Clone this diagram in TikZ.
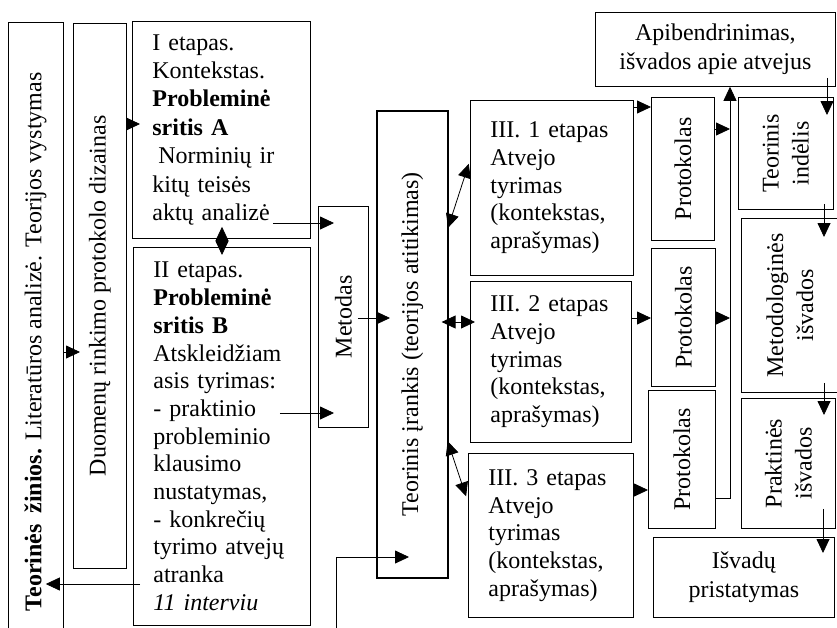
\documentclass[tikz,border=0pt]{standalone}
\usepackage{fontspec}
\setmainfont{Liberation Serif}
\usetikzlibrary{arrows.meta}
\begin{document}
\begin{tikzpicture}[x=1pt,y=-1pt, font=\fontsize{24}{27.7}\selectfont,
  box/.style={draw, line width=0.8pt, inner sep=0pt, anchor=north west},
  arr/.style={line width=0.8pt, -{Triangle[length=14pt,width=13pt]}},
  darr/.style={line width=0.8pt, {Triangle[length=14pt,width=13pt]}-{Triangle[length=14pt,width=13pt]}},
  rot/.style={rotate=90, align=center, inner sep=0pt, font=\fontsize{24}{30}\selectfont}]
\useasboundingbox (0,0) rectangle (837,627);

% left columns
\node[box, minimum width=55, minimum height=640] (lit) at (8,22) {};
\node[rot] (litt) at (35.5,342) {\textbf{Teorinės}\hspace{0.45em}\textbf{žinios.} Literatūros analizė. Teorijos vystymas};
\node[box, minimum width=53, minimum height=545] (duom) at (73,23) {};
\node[rot] (duomt) at (duom.center) {Duomenų rinkimo protokolo dizainas};

% stage I and II
\node[box, minimum width=178, minimum height=217, text width=138, inner xsep=20, align=left,
  font=\fontsize{24}{28.4}\selectfont] (s1) at (132,21)
  {I etapas.\\Kontekstas.\\\textbf{Probleminė}\\\textbf{sritis A}\\\hspace*{6pt}Norminių ir\\kitų teisės\\aktų analizė};
\node[box, minimum width=177, minimum height=378, text width=137, inner xsep=20, align=left] (s2) at (133,247)
  {II etapas.\\\textbf{Probleminė}\\\textbf{sritis B}\\Atskleidžiam\\asis tyrimas:\\- praktinio\\probleminio\\klausimo\\nustatymas,\\- konkrečių\\tyrimo atvejų\\atranka\\\textit{11 interviu}};

% method and tool
\node[box, minimum width=50, minimum height=221] (met) at (318,206) {};
\node[rot] (mett) at (met.center) {Metodas};
\node[box, line width=1.6pt, minimum width=71, minimum height=467] (teo) at (376,110) {};
\node[rot] (teot) at (teo.center) {Teorinis įrankis (teorijos atitikimas)};

% stage III boxes
\node[box, minimum width=163, minimum height=175, text width=123, inner xsep=20, align=left] (t1) at (470,100)
  {III. 1 etapas\\Atvejo\\tyrimas\\(kontekstas,\\aprašymas)};
\node[box, minimum width=161, minimum height=161, text width=121, inner xsep=20, align=left] (t2) at (470,281)
  {III. 2 etapas\\Atvejo\\tyrimas\\(kontekstas,\\aprašymas)};
\node[box, minimum width=165, minimum height=164, text width=125, inner xsep=20, align=left] (t3) at (468,453)
  {III. 3 etapas\\Atvejo\\tyrimas\\(kontekstas,\\aprašymas)};

% protocols
\node[box, minimum width=63, minimum height=143] (p1) at (651,97) {};
\node[rot] (p1t) at (p1.center) {Protokolas};
\node[box, minimum width=64, minimum height=138] (p2) at (651,248) {};
\node[rot] (p2t) at (p2.center) {Protokolas};
\node[box, minimum width=67, minimum height=138] (p3) at (648,390) {};
\node[rot] (p3t) at (p3.center) {Protokolas};

% right column
\node[box, minimum width=240, minimum height=74, align=center, font=\fontsize{24}{29}\selectfont] (apib) at (595,12)
  {Apibendrinimas,\\išvados apie atvejus};
\node[box, minimum width=95, minimum height=112] (ti) at (738,97) {};
\node[rot] (tit) at (ti.center) {Teorinis\\indėlis};
\node[box, minimum width=102, minimum height=174] (mi) at (741,218) {};
\node[rot] (mit) at ([xshift=-2.5pt]mi.center) {Metodologinės\\išvados};
\node[box, minimum width=94, minimum height=130] (pi) at (741,398) {};
\node[rot] (pit) at (pi.center) {Praktinės\\išvados};
\node[box, minimum width=181, minimum height=80, align=center, font=\fontsize{24}{29}\selectfont] (isv) at (653,537)
  {Išvadų\\pristatymas};

\coordinate (vtop) at (apib.south -| 730,0);
\coordinate (bot) at (336,630);

% connectors
\draw[arr, shorten >=-7pt] (lit.east |- 0,352) -- (duom.west |- 0,352);
\draw[arr, shorten <=-8pt, shorten >=-8pt] (duom.east |- 0,124) -- (s1.west |- 0,124);
\draw[arr, shorten <=-7pt, shorten >=-18pt] (s2.west |- 0,584) -- (lit.east |- 0,584);
\draw[darr, shorten <=-12pt, shorten >=-8pt] (s1.south -| 222,0) -- (s2.north -| 222,0);
\draw[arr, shorten <=-38pt, shorten >=-16pt] (s1.east |- 0,223) -- (met.west |- 0,223);
\draw[arr, shorten <=-31pt, shorten >=-16pt] (s2.east |- 0,413) -- (met.west |- 0,413);
\draw[arr, shorten <=-11pt, shorten >=-14pt] (met.east |- 0,318) -- (teo.west |- 0,318);
\draw[arr, shorten >=-33pt] (bot) |- (teo.west |- 0,557);
\draw[darr, shorten <=-2pt, shorten >=4pt] (teo.east |- 0,226) -- (t1.west |- 0,160);
\draw[darr, shorten <=-7pt, shorten >=-5pt] (teo.east |- 0,322) -- (t2.west |- 0,322);
\draw[darr, shorten <=-3pt, shorten >=6pt] (teo.east |- 0,444) -- (t3.west |- 0,502);
\draw[arr] (t1.east |- 0,107) -- (p1.west |- 0,107);
\draw[arr] (t2.east |- 0,318) -- (p2.west |- 0,318);
\draw[arr] (t3.east |- 0,490) -- (p3.west |- 0,490);
\draw[arr] (p1.east |- 0,129) -- (vtop |- 0,129);
\draw[arr] (p2.east |- 0,318) -- (vtop |- 0,318);
\draw[arr] (p3.east |- 0,498) -| (vtop);
\draw[arr, shorten <=-9pt, shorten >=-18pt] (apib.south -| 827,0) -- (ti.north -| 827,0);
\draw[arr, shorten <=-6pt, shorten >=-19pt] (ti.south -| 824,0) -- (mi.north -| 824,0);
\draw[arr, shorten <=-10pt, shorten >=-17pt] (mi.south -| 824,0) -- (pi.north -| 824,0);
\draw[arr, shorten <=-20pt, shorten >=-16pt] (pi.south -| 823,0) -- (isv.north -| 823,0);
\end{tikzpicture}
\end{document}
